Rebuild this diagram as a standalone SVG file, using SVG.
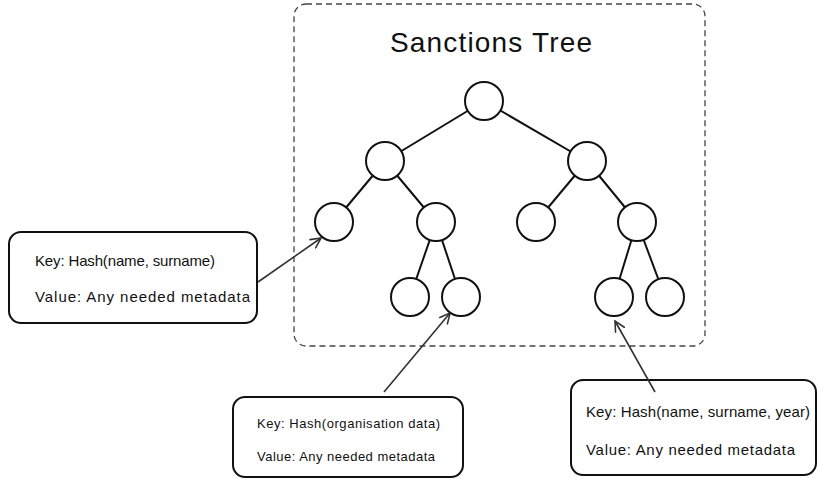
<svg xmlns="http://www.w3.org/2000/svg" width="818" height="479" viewBox="0 0 818 479">
<defs>
<style>
.frame{fill:none;stroke:#444;stroke-width:1.3;stroke-dasharray:6 4}
.edge{stroke:#111;stroke-width:2;fill:none;stroke-linecap:round}
.node{fill:#fff;stroke:#111;stroke-width:2}
.box{fill:#fff;stroke:#111;stroke-width:2}
.arrow{stroke:#333;stroke-width:1.6;fill:none;marker-end:url(#ah)}
.t{font-family:"Liberation Sans",Arial,sans-serif;fill:#111}
.title{font-size:28px}
.lbl{font-size:15px}
.lbls{font-size:13px}
</style>
<marker id="ah" viewBox="0 0 12 12" refX="11" refY="6" markerWidth="12" markerHeight="12" markerUnits="userSpaceOnUse" orient="auto">
<path d="M1,1 L11,6 L1,11" fill="none" stroke="#333" stroke-width="1.6" stroke-linecap="round"/>
</marker>
</defs>
<rect class="frame" x="294" y="4" width="411" height="342" rx="12"/>
<text class="t title" x="390" y="52" textLength="202">Sanctions Tree</text>
<g id="box-person">
<rect class="box" x="9" y="232" width="248" height="91" rx="12"/>
<text class="t lbl" x="35" y="266" textLength="180">Key: Hash(name, surname)</text>
<text class="t lbl" x="35" y="302" textLength="215">Value: Any needed metadata</text>
</g>
<g id="box-org">
<rect class="box" x="233" y="397" width="230" height="80" rx="12"/>
<text class="t lbls" x="257" y="428" textLength="183">Key: Hash(organisation data)</text>
<text class="t lbls" x="257" y="461" textLength="178">Value: Any needed metadata</text>
</g>
<g id="box-year">
<rect class="box" x="571" y="380" width="245" height="95" rx="12"/>
<text class="t lbl" x="586" y="417" textLength="224">Key: Hash(name, surname, year)</text>
<text class="t lbl" x="586" y="455" textLength="209">Value: Any needed metadata</text>
</g>
<g id="connectors">
<line class="edge" x1="484" y1="101" x2="385" y2="161"/>
<line class="edge" x1="484" y1="101" x2="587" y2="161"/>
<line class="edge" x1="385" y1="161" x2="334" y2="222"/>
<line class="edge" x1="385" y1="161" x2="436" y2="222"/>
<line class="edge" x1="587" y1="161" x2="536" y2="222"/>
<line class="edge" x1="587" y1="161" x2="637" y2="222"/>
<line class="edge" x1="436" y1="222" x2="410" y2="297"/>
<line class="edge" x1="436" y1="222" x2="461" y2="297"/>
<line class="edge" x1="637" y1="222" x2="614" y2="297"/>
<line class="edge" x1="637" y1="222" x2="665" y2="297"/>
<line class="arrow" x1="258" y1="282" x2="321" y2="238"/>
<line class="arrow" x1="384" y1="392" x2="450" y2="313"/>
<line class="arrow" x1="655" y1="392" x2="615" y2="321"/>
</g>
<g id="n-root"><circle class="node" cx="484" cy="101" r="19"/></g>
<g id="n-l"><circle class="node" cx="385" cy="161" r="19"/></g>
<g id="n-r"><circle class="node" cx="587" cy="161" r="19"/></g>
<g id="n-ll"><circle class="node" cx="334" cy="222" r="19"/></g>
<g id="n-lr"><circle class="node" cx="436" cy="222" r="19"/></g>
<g id="n-rl"><circle class="node" cx="536" cy="222" r="19"/></g>
<g id="n-rr"><circle class="node" cx="637" cy="222" r="19"/></g>
<g id="n-lrl"><circle class="node" cx="410" cy="297" r="19"/></g>
<g id="n-lrr"><circle class="node" cx="461" cy="297" r="19"/></g>
<g id="n-rrl"><circle class="node" cx="614" cy="297" r="19"/></g>
<g id="n-rrr"><circle class="node" cx="665" cy="297" r="19"/></g>
</svg>
